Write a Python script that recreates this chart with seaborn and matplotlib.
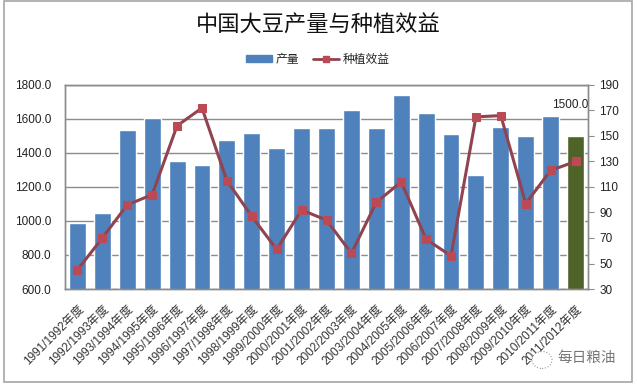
import seaborn as sns
import matplotlib.pyplot as plt
import pandas as pd
from matplotlib.lines import Line2D
from matplotlib.patches import Patch, Rectangle, Ellipse

# values
years = ["1991/1992年度", "1992/1993年度", "1993/1994年度", "1994/1995年度", "1995/1996年度",
         "1996/1997年度", "1997/1998年度", "1998/1999年度", "1999/2000年度", "2000/2001年度",
         "2001/2002年度", "2002/2003年度", "2003/2004年度", "2004/2005年度", "2005/2006年度",
         "2006/2007年度", "2007/2008年度", "2008/2009年度", "2009/2010年度", "2010/2011年度",
         "2011/2012年度"]
output = [990, 1045, 1535, 1605, 1355, 1330, 1475, 1515, 1430, 1545, 1545,
          1650, 1545, 1740, 1635, 1510, 1270, 1555, 1500, 1620, 1500]
benefit = [45, 70, 96, 104, 158, 172, 115, 87, 61, 92, 84,
           58, 98, 114, 69, 56, 165, 166, 97, 123, 130]
left_ticks = [600, 800, 1000, 1200, 1400, 1600, 1800]
right_ticks = [30, 50, 70, 90, 110, 130, 150, 170, 190]

BLUE = "#4F81BD"
GREEN = "#4F6228"
LINE = "#8F4450"
MARK = "#BC4A55"
GREY = "#8C8C8C"

sns.set_theme(style="white")
plt.rcParams["font.family"] = ["Liberation Sans", "Noto Sans CJK SC"]

df = pd.DataFrame({"year": years, "output": output, "benefit": benefit})
colors = {y: BLUE for y in years}
colors[years[-1]] = GREEN

fig = plt.figure(figsize=(6.37, 3.87), dpi=100, facecolor="white")
fig.patches.append(Rectangle((3.5 / 637, 1 - 382 / 387), 628 / 637, 381 / 387,
                             transform=fig.transFigure, fill=False,
                             edgecolor="#A6A6A6", linewidth=1.2))
ax = fig.add_axes([65 / 637, 1 - 289 / 387, 523 / 637, 204 / 387])

sns.barplot(data=df, x="year", y="output", hue="year", palette=colors, dodge=False,
            width=0.68, saturation=1, legend=False, zorder=2, ax=ax)
ax.set_xlim(-0.5, 20.5)
ax.set_ylim(600, 1800)
ax.set_yticks(left_ticks)
ax.set_yticklabels([f"{v:.1f}" for v in left_ticks], fontsize=8.5, color="#222222")
ax.set_xlabel("")
ax.set_ylabel("")
ax.set_xticks(range(len(years)))
ax.set_xticklabels(years, rotation=45, ha="right", rotation_mode="anchor",
                   fontsize=8.5, color="#333333")
ax.tick_params(axis="x", length=0, pad=10)
ax.tick_params(axis="y", length=0, pad=10)
ax.grid(True, axis="y", color=GREY, linewidth=1)
ax.set_axisbelow(True)

ax.annotate(f"{output[-1]:.1f}", xy=(20, output[-1]), xytext=(-4, 20),
            textcoords="offset points", ha="center", fontsize=8.5, color="#222222")

ax2 = ax.twinx()
sns.lineplot(data=df, x="year", y="benefit", color=LINE, linewidth=2.2, marker="s",
             markersize=6, markerfacecolor=MARK, markeredgecolor=MARK, ax=ax2)
ax2.set_ylim(30, 190)
ax2.set_yticks(right_ticks)
ax2.set_yticklabels(right_ticks, fontsize=8.5, color="#222222")
ax2.set_xlabel("")
ax2.set_ylabel("")
ax2.grid(False)
ax2.tick_params(axis="y", length=4, width=0.8, color=GREY, pad=4, right=True)

for a in (ax, ax2):
    for s in a.spines.values():
        s.set_color(GREY)
        s.set_linewidth(1)

fig.text(318 / 637, 1 - 26 / 387, "中国大豆产量与种植效益", ha="center", va="center",
         fontsize=16, color="#111111")

handles = [Patch(color=BLUE, label="产量"),
           Line2D([], [], color=LINE, linewidth=2, marker="s", markersize=5,
                  markerfacecolor=MARK, markeredgecolor=MARK, label="种植效益")]
fig.legend(handles=handles, loc="center", bbox_to_anchor=(318 / 637, 1 - 60 / 387), ncol=2,
           frameon=False, fontsize=8.5, handlelength=2.2, handleheight=0.5,
           columnspacing=1.2, handletextpad=0.3)

# watermark bottom right, the logo blob sits over the last tick label
ax2.add_patch(Ellipse((542 / 637, 1 - 360 / 387), 20 / 637, 17 / 387, transform=fig.transFigure,
                      facecolor="white", edgecolor="#999999", linewidth=0.8, linestyle=":",
                      clip_on=False, zorder=10))
fig.text(587 / 637, 1 - 358 / 387, "每日粮油", ha="center", va="center",
         fontsize=10.5, color="#777777")

fig.savefig("out.png", dpi=100)
